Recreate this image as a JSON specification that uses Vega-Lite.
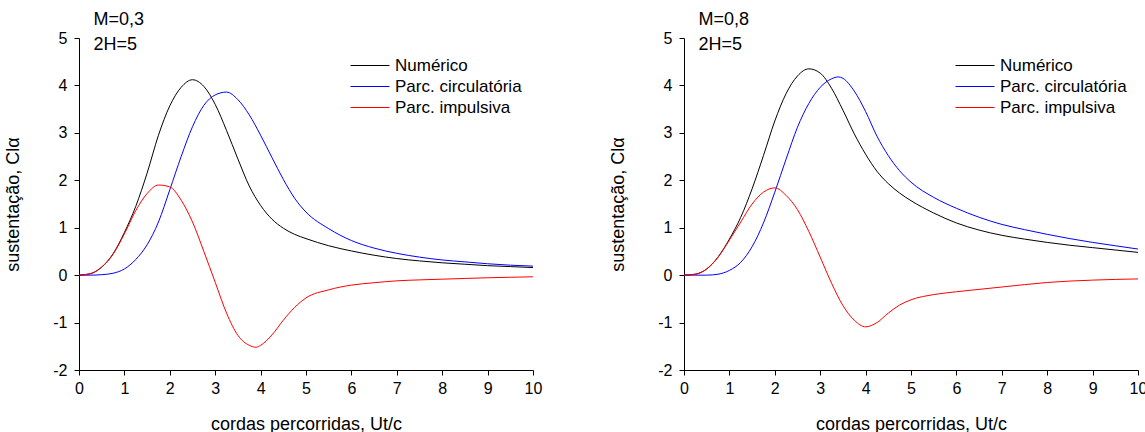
{
  "$schema": "https://vega.github.io/schema/vega-lite/v6.json",
  "padding": {"left": 4, "top": 11, "right": 0, "bottom": 0},
  "config": {
    "view": {"stroke": null},
    "font": "Liberation Sans",
    "axis": {
      "grid": false,
      "domainColor": "black",
      "domainWidth": 1,
      "tickColor": "black",
      "tickWidth": 1,
      "labelColor": "black",
      "titleColor": "black",
      "labelFont": "Liberation Sans",
      "titleFont": "Liberation Sans",
      "labelFontSize": 16,
      "titleFontSize": 18,
      "titleFontWeight": "normal"
    }
  },
  "datasets": {
    "m03": [
      {"x":0,"y":0,"s":"Numérico"},{"x":0.25,"y":0.03,"s":"Numérico"},{"x":0.5,"y":0.17,"s":"Numérico"},{"x":0.75,"y":0.45,"s":"Numérico"},{"x":1,"y":0.9,"s":"Numérico"},{"x":1.25,"y":1.45,"s":"Numérico"},{"x":1.5,"y":2.15,"s":"Numérico"},{"x":1.75,"y":2.95,"s":"Numérico"},{"x":2,"y":3.57,"s":"Numérico"},{"x":2.25,"y":3.96,"s":"Numérico"},{"x":2.5,"y":4.12,"s":"Numérico"},{"x":2.75,"y":3.98,"s":"Numérico"},{"x":3,"y":3.6,"s":"Numérico"},{"x":3.25,"y":3.05,"s":"Numérico"},{"x":3.5,"y":2.45,"s":"Numérico"},{"x":3.75,"y":1.88,"s":"Numérico"},{"x":4,"y":1.47,"s":"Numérico"},{"x":4.25,"y":1.18,"s":"Numérico"},{"x":4.5,"y":0.99,"s":"Numérico"},{"x":4.75,"y":0.86,"s":"Numérico"},{"x":5,"y":0.77,"s":"Numérico"},{"x":5.5,"y":0.62,"s":"Numérico"},{"x":6,"y":0.51,"s":"Numérico"},{"x":6.5,"y":0.42,"s":"Numérico"},{"x":7,"y":0.35,"s":"Numérico"},{"x":7.5,"y":0.3,"s":"Numérico"},{"x":8,"y":0.26,"s":"Numérico"},{"x":8.5,"y":0.23,"s":"Numérico"},{"x":9,"y":0.2,"s":"Numérico"},{"x":9.5,"y":0.18,"s":"Numérico"},{"x":10,"y":0.16,"s":"Numérico"},
      {"x":0,"y":0,"s":"Parc. circulatória"},{"x":0.25,"y":0,"s":"Parc. circulatória"},{"x":0.5,"y":0.01,"s":"Parc. circulatória"},{"x":0.75,"y":0.04,"s":"Parc. circulatória"},{"x":1,"y":0.13,"s":"Parc. circulatória"},{"x":1.25,"y":0.33,"s":"Parc. circulatória"},{"x":1.5,"y":0.64,"s":"Parc. circulatória"},{"x":1.75,"y":1.12,"s":"Parc. circulatória"},{"x":2,"y":1.8,"s":"Parc. circulatória"},{"x":2.25,"y":2.5,"s":"Parc. circulatória"},{"x":2.5,"y":3.13,"s":"Parc. circulatória"},{"x":2.75,"y":3.58,"s":"Parc. circulatória"},{"x":3,"y":3.8,"s":"Parc. circulatória"},{"x":3.25,"y":3.86,"s":"Parc. circulatória"},{"x":3.5,"y":3.7,"s":"Parc. circulatória"},{"x":3.75,"y":3.38,"s":"Parc. circulatória"},{"x":4,"y":2.95,"s":"Parc. circulatória"},{"x":4.25,"y":2.48,"s":"Parc. circulatória"},{"x":4.5,"y":2.02,"s":"Parc. circulatória"},{"x":4.75,"y":1.62,"s":"Parc. circulatória"},{"x":5,"y":1.33,"s":"Parc. circulatória"},{"x":5.5,"y":0.98,"s":"Parc. circulatória"},{"x":6,"y":0.73,"s":"Parc. circulatória"},{"x":6.5,"y":0.57,"s":"Parc. circulatória"},{"x":7,"y":0.46,"s":"Parc. circulatória"},{"x":7.5,"y":0.38,"s":"Parc. circulatória"},{"x":8,"y":0.32,"s":"Parc. circulatória"},{"x":8.5,"y":0.28,"s":"Parc. circulatória"},{"x":9,"y":0.24,"s":"Parc. circulatória"},{"x":9.5,"y":0.21,"s":"Parc. circulatória"},{"x":10,"y":0.19,"s":"Parc. circulatória"},
      {"x":0,"y":0,"s":"Parc. impulsiva"},{"x":0.25,"y":0.03,"s":"Parc. impulsiva"},{"x":0.5,"y":0.17,"s":"Parc. impulsiva"},{"x":0.75,"y":0.44,"s":"Parc. impulsiva"},{"x":1,"y":0.87,"s":"Parc. impulsiva"},{"x":1.25,"y":1.36,"s":"Parc. impulsiva"},{"x":1.5,"y":1.72,"s":"Parc. impulsiva"},{"x":1.75,"y":1.9,"s":"Parc. impulsiva"},{"x":2,"y":1.86,"s":"Parc. impulsiva"},{"x":2.25,"y":1.58,"s":"Parc. impulsiva"},{"x":2.5,"y":1.12,"s":"Parc. impulsiva"},{"x":2.75,"y":0.5,"s":"Parc. impulsiva"},{"x":3,"y":-0.15,"s":"Parc. impulsiva"},{"x":3.25,"y":-0.8,"s":"Parc. impulsiva"},{"x":3.5,"y":-1.27,"s":"Parc. impulsiva"},{"x":3.75,"y":-1.48,"s":"Parc. impulsiva"},{"x":3.9,"y":-1.52,"s":"Parc. impulsiva"},{"x":4,"y":-1.48,"s":"Parc. impulsiva"},{"x":4.25,"y":-1.26,"s":"Parc. impulsiva"},{"x":4.5,"y":-0.95,"s":"Parc. impulsiva"},{"x":4.75,"y":-0.68,"s":"Parc. impulsiva"},{"x":5,"y":-0.48,"s":"Parc. impulsiva"},{"x":5.5,"y":-0.31,"s":"Parc. impulsiva"},{"x":6,"y":-0.21,"s":"Parc. impulsiva"},{"x":6.5,"y":-0.16,"s":"Parc. impulsiva"},{"x":7,"y":-0.12,"s":"Parc. impulsiva"},{"x":7.5,"y":-0.1,"s":"Parc. impulsiva"},{"x":8,"y":-0.085,"s":"Parc. impulsiva"},{"x":8.5,"y":-0.07,"s":"Parc. impulsiva"},{"x":9,"y":-0.055,"s":"Parc. impulsiva"},{"x":9.5,"y":-0.045,"s":"Parc. impulsiva"},{"x":10,"y":-0.035,"s":"Parc. impulsiva"}
    ],
    "m08": [
      {"x":0,"y":0,"s":"Numérico"},{"x":0.25,"y":0.02,"s":"Numérico"},{"x":0.5,"y":0.13,"s":"Numérico"},{"x":0.75,"y":0.38,"s":"Numérico"},{"x":1,"y":0.76,"s":"Numérico"},{"x":1.25,"y":1.22,"s":"Numérico"},{"x":1.5,"y":1.82,"s":"Numérico"},{"x":1.75,"y":2.52,"s":"Numérico"},{"x":2,"y":3.25,"s":"Numérico"},{"x":2.25,"y":3.83,"s":"Numérico"},{"x":2.5,"y":4.2,"s":"Numérico"},{"x":2.75,"y":4.35,"s":"Numérico"},{"x":3,"y":4.26,"s":"Numérico"},{"x":3.25,"y":3.94,"s":"Numérico"},{"x":3.5,"y":3.48,"s":"Numérico"},{"x":3.75,"y":2.98,"s":"Numérico"},{"x":4,"y":2.55,"s":"Numérico"},{"x":4.25,"y":2.19,"s":"Numérico"},{"x":4.5,"y":1.93,"s":"Numérico"},{"x":4.75,"y":1.73,"s":"Numérico"},{"x":5,"y":1.57,"s":"Numérico"},{"x":5.5,"y":1.31,"s":"Numérico"},{"x":6,"y":1.1,"s":"Numérico"},{"x":6.5,"y":0.95,"s":"Numérico"},{"x":7,"y":0.84,"s":"Numérico"},{"x":7.5,"y":0.76,"s":"Numérico"},{"x":8,"y":0.69,"s":"Numérico"},{"x":8.5,"y":0.63,"s":"Numérico"},{"x":9,"y":0.58,"s":"Numérico"},{"x":9.5,"y":0.53,"s":"Numérico"},{"x":10,"y":0.48,"s":"Numérico"},
      {"x":0,"y":0,"s":"Parc. circulatória"},{"x":0.25,"y":0,"s":"Parc. circulatória"},{"x":0.5,"y":0,"s":"Parc. circulatória"},{"x":0.75,"y":0.02,"s":"Parc. circulatória"},{"x":1,"y":0.1,"s":"Parc. circulatória"},{"x":1.25,"y":0.27,"s":"Parc. circulatória"},{"x":1.5,"y":0.6,"s":"Parc. circulatória"},{"x":1.75,"y":1.1,"s":"Parc. circulatória"},{"x":2,"y":1.75,"s":"Parc. circulatória"},{"x":2.25,"y":2.45,"s":"Parc. circulatória"},{"x":2.5,"y":3.12,"s":"Parc. circulatória"},{"x":2.75,"y":3.62,"s":"Parc. circulatória"},{"x":3,"y":3.96,"s":"Parc. circulatória"},{"x":3.25,"y":4.14,"s":"Parc. circulatória"},{"x":3.4,"y":4.18,"s":"Parc. circulatória"},{"x":3.5,"y":4.15,"s":"Parc. circulatória"},{"x":3.75,"y":3.88,"s":"Parc. circulatória"},{"x":4,"y":3.45,"s":"Parc. circulatória"},{"x":4.25,"y":2.93,"s":"Parc. circulatória"},{"x":4.5,"y":2.52,"s":"Parc. circulatória"},{"x":4.75,"y":2.2,"s":"Parc. circulatória"},{"x":5,"y":1.96,"s":"Parc. circulatória"},{"x":5.5,"y":1.64,"s":"Parc. circulatória"},{"x":6,"y":1.41,"s":"Parc. circulatória"},{"x":6.5,"y":1.22,"s":"Parc. circulatória"},{"x":7,"y":1.07,"s":"Parc. circulatória"},{"x":7.5,"y":0.96,"s":"Parc. circulatória"},{"x":8,"y":0.86,"s":"Parc. circulatória"},{"x":8.5,"y":0.77,"s":"Parc. circulatória"},{"x":9,"y":0.69,"s":"Parc. circulatória"},{"x":9.5,"y":0.62,"s":"Parc. circulatória"},{"x":10,"y":0.55,"s":"Parc. circulatória"},
      {"x":0,"y":0,"s":"Parc. impulsiva"},{"x":0.25,"y":0.02,"s":"Parc. impulsiva"},{"x":0.5,"y":0.13,"s":"Parc. impulsiva"},{"x":0.75,"y":0.38,"s":"Parc. impulsiva"},{"x":1,"y":0.74,"s":"Parc. impulsiva"},{"x":1.25,"y":1.12,"s":"Parc. impulsiva"},{"x":1.5,"y":1.5,"s":"Parc. impulsiva"},{"x":1.75,"y":1.75,"s":"Parc. impulsiva"},{"x":2,"y":1.84,"s":"Parc. impulsiva"},{"x":2.25,"y":1.68,"s":"Parc. impulsiva"},{"x":2.5,"y":1.38,"s":"Parc. impulsiva"},{"x":2.75,"y":0.92,"s":"Parc. impulsiva"},{"x":3,"y":0.38,"s":"Parc. impulsiva"},{"x":3.25,"y":-0.17,"s":"Parc. impulsiva"},{"x":3.5,"y":-0.64,"s":"Parc. impulsiva"},{"x":3.75,"y":-0.95,"s":"Parc. impulsiva"},{"x":4,"y":-1.09,"s":"Parc. impulsiva"},{"x":4.25,"y":-1.0,"s":"Parc. impulsiva"},{"x":4.5,"y":-0.8,"s":"Parc. impulsiva"},{"x":4.75,"y":-0.63,"s":"Parc. impulsiva"},{"x":5,"y":-0.52,"s":"Parc. impulsiva"},{"x":5.5,"y":-0.41,"s":"Parc. impulsiva"},{"x":6,"y":-0.35,"s":"Parc. impulsiva"},{"x":6.5,"y":-0.3,"s":"Parc. impulsiva"},{"x":7,"y":-0.25,"s":"Parc. impulsiva"},{"x":7.5,"y":-0.2,"s":"Parc. impulsiva"},{"x":8,"y":-0.155,"s":"Parc. impulsiva"},{"x":8.5,"y":-0.125,"s":"Parc. impulsiva"},{"x":9,"y":-0.105,"s":"Parc. impulsiva"},{"x":9.5,"y":-0.09,"s":"Parc. impulsiva"},{"x":10,"y":-0.08,"s":"Parc. impulsiva"}
    ]
  },
  "hconcat": [
    {
      "width": 454,
      "height": 332,
      "layer": [
        {
          "data": {"name": "m03"},
          "mark": {"type": "line", "strokeWidth": 1, "interpolate": "monotone"},
          "encoding": {
            "x": {"field": "x", "type": "quantitative", "scale": {"domain": [0, 10], "nice": false},
              "axis": {"title": "cordas percorridas, Ut/c", "values": [0,0.5,1,1.5,2,2.5,3,3.5,4,4.5,5,5.5,6,6.5,7,7.5,8,8.5,9,9.5,10],
                "labelExpr": "datum.value % 1 === 0 ? toString(datum.value) : ''",
                "tickSize": {"condition": {"test": "datum.value % 1 === 0", "value": 5}, "value": 3},
                "labelPadding": 5, "titlePadding": 19, "labelFlush": false, "labelOverlap": false}},
            "y": {"field": "y", "type": "quantitative", "scale": {"domain": [-2, 5], "nice": false},
              "axis": {"title": "sustentação, Clα", "values": [-2,-1.5,-1,-0.5,0,0.5,1,1.5,2,2.5,3,3.5,4,4.5,5],
                "labelExpr": "datum.value % 1 === 0 ? toString(datum.value) : ''",
                "tickSize": {"condition": {"test": "datum.value % 1 === 0", "value": 5}, "value": 3},
                "labelPadding": 7, "titlePadding": 30, "labelFlush": false, "labelOverlap": false}},
            "color": {"field": "s", "type": "nominal",
              "scale": {"domain": ["Numérico", "Parc. circulatória", "Parc. impulsiva"], "range": ["#000000", "#0000ff", "#ff0000"]},
              "legend": {"orient": "none", "legendX": 271, "legendY": 18, "title": null, "symbolType": "stroke", "symbolSize": 1521, "symbolStrokeWidth": 1, "clipHeight": 19, "rowPadding": 2, "labelFontSize": 17, "labelFont": "Liberation Sans", "labelColor": "black", "labelOffset": 5, "padding": 0}}
          }
        },
        {
          "data": {"values": [{"t": "M=0,3"}]},
          "mark": {"type": "text", "align": "left", "baseline": "middle", "fontSize": 18, "font": "Liberation Sans", "color": "black"},
          "encoding": {"x": {"datum": 0.32, "type": "quantitative"}, "y": {"datum": 5.37, "type": "quantitative"}, "text": {"field": "t"}}
        },
        {
          "data": {"values": [{"t": "2H=5"}]},
          "mark": {"type": "text", "align": "left", "baseline": "middle", "fontSize": 18, "font": "Liberation Sans", "color": "black"},
          "encoding": {"x": {"datum": 0.32, "type": "quantitative"}, "y": {"datum": 4.86, "type": "quantitative"}, "text": {"field": "t"}}
        }
      ]
    },
    {
      "width": 454,
      "height": 332,
      "layer": [
        {
          "data": {"name": "m08"},
          "mark": {"type": "line", "strokeWidth": 1, "interpolate": "monotone"},
          "encoding": {
            "x": {"field": "x", "type": "quantitative", "scale": {"domain": [0, 10], "nice": false},
              "axis": {"title": "cordas percorridas, Ut/c", "values": [0,0.5,1,1.5,2,2.5,3,3.5,4,4.5,5,5.5,6,6.5,7,7.5,8,8.5,9,9.5,10],
                "labelExpr": "datum.value % 1 === 0 ? toString(datum.value) : ''",
                "tickSize": {"condition": {"test": "datum.value % 1 === 0", "value": 5}, "value": 3},
                "labelPadding": 5, "titlePadding": 19, "labelFlush": false, "labelOverlap": false}},
            "y": {"field": "y", "type": "quantitative", "scale": {"domain": [-2, 5], "nice": false},
              "axis": {"title": "sustentação, Clα", "values": [-2,-1.5,-1,-0.5,0,0.5,1,1.5,2,2.5,3,3.5,4,4.5,5],
                "labelExpr": "datum.value % 1 === 0 ? toString(datum.value) : ''",
                "tickSize": {"condition": {"test": "datum.value % 1 === 0", "value": 5}, "value": 3},
                "labelPadding": 7, "titlePadding": 30, "labelFlush": false, "labelOverlap": false}},
            "color": {"field": "s", "type": "nominal",
              "scale": {"domain": ["Numérico", "Parc. circulatória", "Parc. impulsiva"], "range": ["#000000", "#0000ff", "#ff0000"]},
              "legend": {"orient": "none", "legendX": 271, "legendY": 18, "title": null, "symbolType": "stroke", "symbolSize": 1521, "symbolStrokeWidth": 1, "clipHeight": 19, "rowPadding": 2, "labelFontSize": 17, "labelFont": "Liberation Sans", "labelColor": "black", "labelOffset": 5, "padding": 0}}
          }
        },
        {
          "data": {"values": [{"t": "M=0,8"}]},
          "mark": {"type": "text", "align": "left", "baseline": "middle", "fontSize": 18, "font": "Liberation Sans", "color": "black"},
          "encoding": {"x": {"datum": 0.32, "type": "quantitative"}, "y": {"datum": 5.37, "type": "quantitative"}, "text": {"field": "t"}}
        },
        {
          "data": {"values": [{"t": "2H=5"}]},
          "mark": {"type": "text", "align": "left", "baseline": "middle", "fontSize": 18, "font": "Liberation Sans", "color": "black"},
          "encoding": {"x": {"datum": 0.32, "type": "quantitative"}, "y": {"datum": 4.86, "type": "quantitative"}, "text": {"field": "t"}}
        }
      ]
    }
  ],
  "spacing": 151,
  "bounds": "flush",
  "resolve": {"legend": {"color": "independent"}, "scale": {"color": "independent"}}
}
